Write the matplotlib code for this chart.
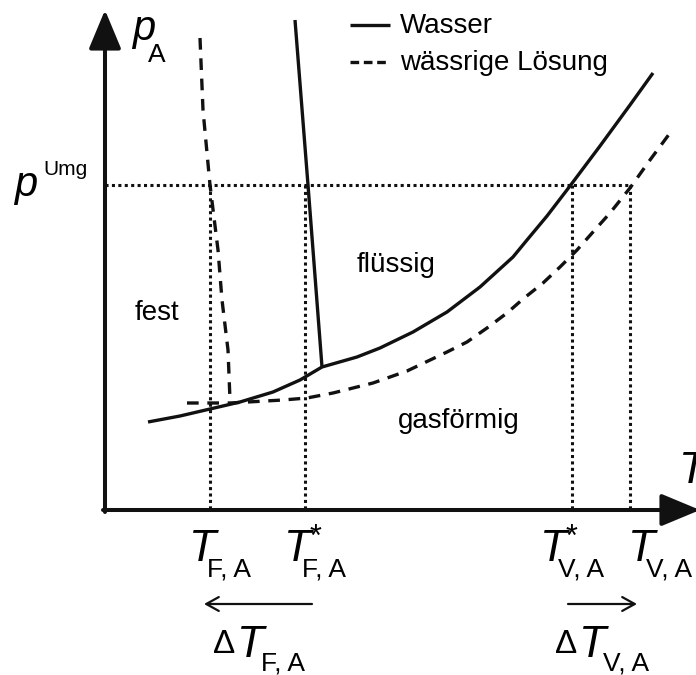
import numpy as np
import matplotlib
matplotlib.use("Agg")
from matplotlib import pyplot as plt

# Wasser: Sublimations- und Dampfdruckkurve
wasser_dampf_x = [148, 180, 210, 240, 273, 300, 322, 357, 380, 413, 447, 480, 513, 527, 547, 570, 600, 630, 653]
wasser_dampf_y = [422, 416, 409, 402, 392, 380, 367, 357, 348, 332, 312, 287, 257, 240, 216, 186, 146, 105, 73]
# Wasser: Schmelzkurve
wasser_schmelz_x = [295, 308, 322]
wasser_schmelz_y = [20, 185, 367]
# waessrige Loesung: Dampfdruckkurve
loesung_dampf_x = [187, 230, 283, 307, 333, 373, 407, 447, 467, 487, 507, 523, 543, 560, 577, 593, 610, 630, 650, 670]
loesung_dampf_y = [403, 403, 400, 398, 393, 383, 371, 352, 342, 328, 313, 299, 283, 267, 250, 232, 213, 188, 160, 133]
# waessrige Loesung: Schmelzkurve
loesung_schmelz_x = [200, 203, 210, 218, 222, 228, 230]
loesung_schmelz_y = [38, 110, 185, 250, 300, 350, 400]

p_umg = 185
T_marken = [210, 305, 572, 630]
T_namen = ["F, A", "F, A", "V, A", "V, A"]
T_stern = [False, True, True, False]

x0, y0 = 105, 510   # Ursprung

######## Figur

plt.rcParams['font.family'] = ['Liberation Sans', 'DejaVu Sans']
fig = plt.figure(figsize=(6.96, 6.75), dpi=100)
ax = fig.add_axes([0, 0, 1, 1])
ax.set_xlim(0, 696)
ax.set_ylim(675, 0)
ax.axis('off')

schwarz = '#111111'
lw_kurve = 2.4
ax.plot(wasser_dampf_x, wasser_dampf_y, color=schwarz, lw=lw_kurve, solid_capstyle='butt', solid_joinstyle='round')
ax.plot(wasser_schmelz_x, wasser_schmelz_y, color=schwarz, lw=lw_kurve, solid_capstyle='butt')
ax.plot(loesung_dampf_x, loesung_dampf_y, color=schwarz, lw=lw_kurve, dashes=(3.5, 2.6), dash_capstyle='butt')
ax.plot(loesung_schmelz_x, loesung_schmelz_y, color=schwarz, lw=lw_kurve, dashes=(3.5, 2.6), dash_capstyle='butt')

# gepunktete Hilfslinien
punkt = dict(color=schwarz, lw=2.2, dashes=(1, 1.1), dash_capstyle='butt')
ax.plot([x0, T_marken[-1]], [p_umg, p_umg], **punkt)
for xm in T_marken:
    ax.plot([xm, xm], [p_umg, y0], **punkt)

# Achsen mit Pfeilen
achse = dict(arrowstyle='-|>,head_length=1.2,head_width=0.5', lw=2.9,
             color=schwarz, mutation_scale=20, shrinkA=0, shrinkB=0)
ax.annotate('', xy=(x0, 10), xytext=(x0, y0 + 2), arrowprops=achse, annotation_clip=False)
ax.annotate('', xy=(700, y0), xytext=(x0 - 2, y0), arrowprops=achse, annotation_clip=False)

# Legende
ax.plot([350, 390], [25, 25], color=schwarz, lw=lw_kurve, solid_capstyle='butt')
ax.plot([350, 390], [62, 62], color=schwarz, lw=lw_kurve, dashes=(2.6, 1.4), dash_capstyle='butt')
ax.text(400, 33, "Wasser", fontsize=20, va='baseline')
ax.text(400, 70, "wässrige Lösung", fontsize=20, va='baseline')

# Achsenbeschriftungen
ax.text(132, 40, "p", fontsize=30, style='italic', va='baseline')
ax.text(148, 62, "A", fontsize=19, va='baseline')
ax.text(14, 196, "p", fontsize=30, style='italic', va='baseline')
ax.text(43, 175, "Umg", fontsize=15, va='baseline')
ax.text(679, 483, "T", fontsize=32, style='italic', va='baseline', clip_on=False)

# Bereiche
ax.text(135, 320, "fest", fontsize=20, va='baseline')
ax.text(357, 272, "flüssig", fontsize=20, va='baseline')
ax.text(398, 428, "gasförmig", fontsize=20, va='baseline')

# Temperaturmarken
T_links = [189, 284, 540, 628]
for xl, name, stern in zip(T_links, T_namen, T_stern):
    ax.text(xl, 561, "T", fontsize=32, style='italic', va='baseline')
    ax.text(xl + 18, 577, name, fontsize=19, va='baseline')
    if stern:
        ax.text(xl + 26, 546, "*", fontsize=22, va='baseline')

# Verschiebungen
pfeil = dict(arrowstyle='->,head_length=0.45,head_width=0.25', lw=1.6,
             color=schwarz, mutation_scale=20, shrinkA=0, shrinkB=0)
ax.annotate('', xy=(204, 604), xytext=(312, 604), arrowprops=pfeil)
ax.annotate('', xy=(637, 604), xytext=(568, 604), arrowprops=pfeil)
for xd, name in zip([213, 555], ["F, A", "V, A"]):
    ax.text(xd, 653, "Δ", fontsize=24, va='baseline')
    ax.text(xd + 24, 657, "T", fontsize=32, style='italic', va='baseline')
    ax.text(xd + 48, 671, name, fontsize=19, va='baseline')

plt.savefig("out.png", dpi=100)
